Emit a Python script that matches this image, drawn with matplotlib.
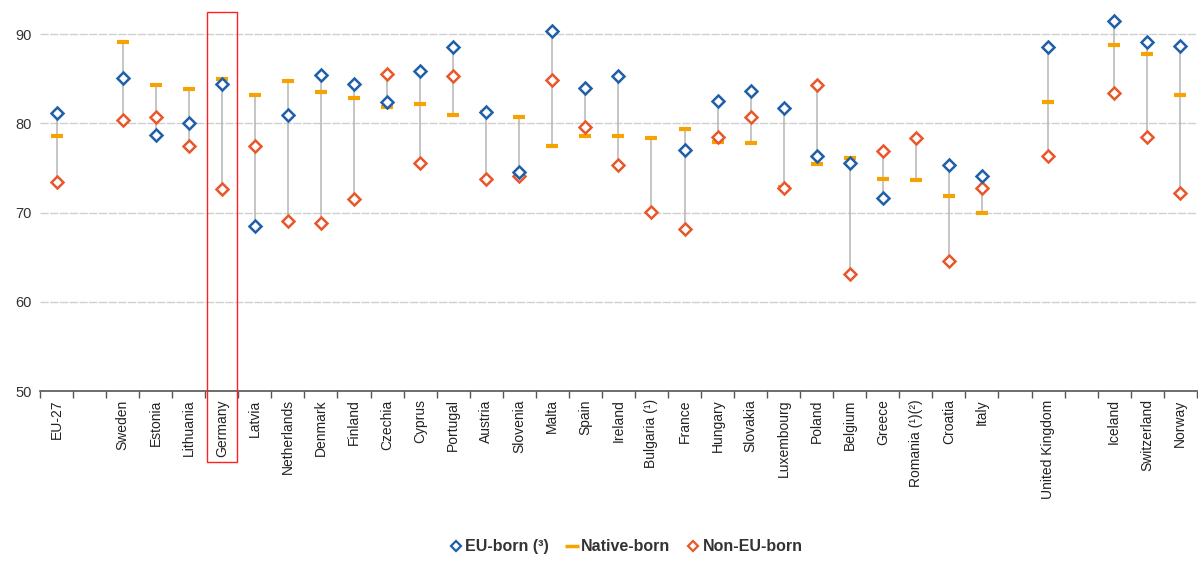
import numpy as np
import matplotlib
matplotlib.use("Agg")
import matplotlib.pyplot as plt
from matplotlib.lines import Line2D
from matplotlib.patches import Rectangle
import matplotlib.transforms as mtransforms

# category order, '' = gap slot
countries = ["EU-27", "", "Sweden", "Estonia", "Lithuania", "Germany", "Latvia",
             "Netherlands", "Denmark", "Finland", "Czechia", "Cyprus", "Portugal",
             "Austria", "Slovenia", "Malta", "Spain", "Ireland", "Bulgaria (¹)",
             "France", "Hungary", "Slovakia", "Luxembourg", "Poland", "Belgium",
             "Greece", "Romania (¹)(²)", "Croatia", "Italy", "", "United Kingdom", "",
             "Iceland", "Switzerland", "Norway"]

nan = np.nan
eu_born = [81.2, nan, 85.1, 78.7, 80.0, 84.4, 68.5, 80.9, 85.4, 84.4, 82.4, 85.9, 88.6,
           81.3, 74.5, 90.4, 84.0, 85.3, nan, 77.0, 82.5, 83.6, 81.7, 76.3, 75.6,
           71.6, nan, 75.3, 74.1, nan, 88.5, nan, 91.5, 89.1, 88.7]
native_born = [78.6, nan, 89.1, 84.3, 83.8, 85.0, 83.2, 84.7, 83.5, 82.8, 81.8, 82.2, 80.9,
               81.3, 80.7, 77.5, 78.6, 78.6, 78.3, 79.4, 77.9, 77.8, 72.9, 75.4, 76.1,
               73.8, 73.7, 71.9, 70.0, nan, 82.4, nan, 88.8, 87.8, 83.2]
non_eu_born = [73.4, nan, 80.4, 80.7, 77.5, 72.6, 77.5, 69.1, 68.8, 71.5, 85.5, 75.6, 85.3,
               73.8, 74.1, 84.8, 79.6, 75.3, 70.1, 68.2, 78.5, 80.7, 72.7, 84.3, 63.1,
               76.9, 78.3, 64.6, 72.7, nan, 76.3, nan, 83.4, 78.5, 72.2]
highlight = "Germany"

blue = "#1f5fa8"
orange = "#e8582a"
amber = "#f5a300"
grey = "#b5b5b5"

plt.rcParams["font.family"] = ["Liberation Sans", "DejaVu Sans"]

eu = np.array(eu_born, dtype=float)
nat = np.array(native_born, dtype=float)
non = np.array(non_eu_born, dtype=float)
x = np.arange(len(countries))

fig = plt.figure(figsize=(11.98, 5.61), dpi=100)
ax = fig.add_axes([0.0334, 0.303, 0.9656, 0.676])

stack = np.vstack([eu, nat, non])
lo = np.nanmin(stack, axis=0)
hi = np.nanmax(stack, axis=0)
ok = ~np.isnan(lo)
ax.vlines(x[ok], lo[ok], hi[ok], color=grey, lw=1.1, zorder=2)

ax.plot(x, nat, ls="none", marker="_", ms=9, mew=3, color=amber, zorder=3)
ax.plot(x, non, ls="none", marker="D", ms=6.5, mew=1.8, mfc="white", mec=orange, zorder=4)
ax.plot(x, eu, ls="none", marker="D", ms=6.5, mew=1.8, mfc="white", mec=blue, zorder=5)

ax.set_xlim(-0.5, len(countries) - 0.5)
ax.set_ylim(50, 92.5)
ax.set_yticks([50, 60, 70, 80, 90])
ax.tick_params(axis="y", length=0, labelsize=10.5, labelcolor="#333333", pad=6)
ax.yaxis.grid(True, color="#d0d0d0", lw=1, ls=(0, (6, 1)))
ax.set_axisbelow(True)

ax.set_xticks(x)
ax.set_xticklabels(countries, rotation=90, fontsize=10, color="#222222")
ax.tick_params(axis="x", which="major", length=0, pad=6)
ax.set_xticks(np.arange(len(countries) + 1) - 0.5, minor=True)
ax.tick_params(axis="x", which="minor", length=5, width=1, color="#555555")

for s in ["top", "right", "left"]:
    ax.spines[s].set_visible(False)
ax.spines["bottom"].set_color("#555555")
ax.spines["bottom"].set_linewidth(1.2)

# red highlight box around Germany
gi = countries.index(highlight)
trans = mtransforms.blended_transform_factory(ax.transData, ax.transAxes)
ax.add_patch(Rectangle((gi - 0.45, -0.188), 0.9, 1.188, transform=trans,
                       fill=False, ec="#ff2020", lw=1, clip_on=False, zorder=6))

handles = [
    Line2D([], [], ls="none", marker="D", ms=5, mew=1.6, mfc="white", mec=blue),
    Line2D([], [], ls="none", marker="_", ms=10, mew=2.5, color=amber),
    Line2D([], [], ls="none", marker="D", ms=5, mew=1.6, mfc="white", mec=orange),
]
fig.legend(handles, ["EU-born (³)", "Native-born", "Non-EU-born"],
           loc="center", bbox_to_anchor=(0.5225, 0.025), ncol=3, frameon=False,
           handlelength=0.8, handletextpad=0.2, columnspacing=1.0,
           prop={"size": 11.5, "weight": "bold"}, labelcolor="#333333")

fig.savefig("out.png", dpi=100)
